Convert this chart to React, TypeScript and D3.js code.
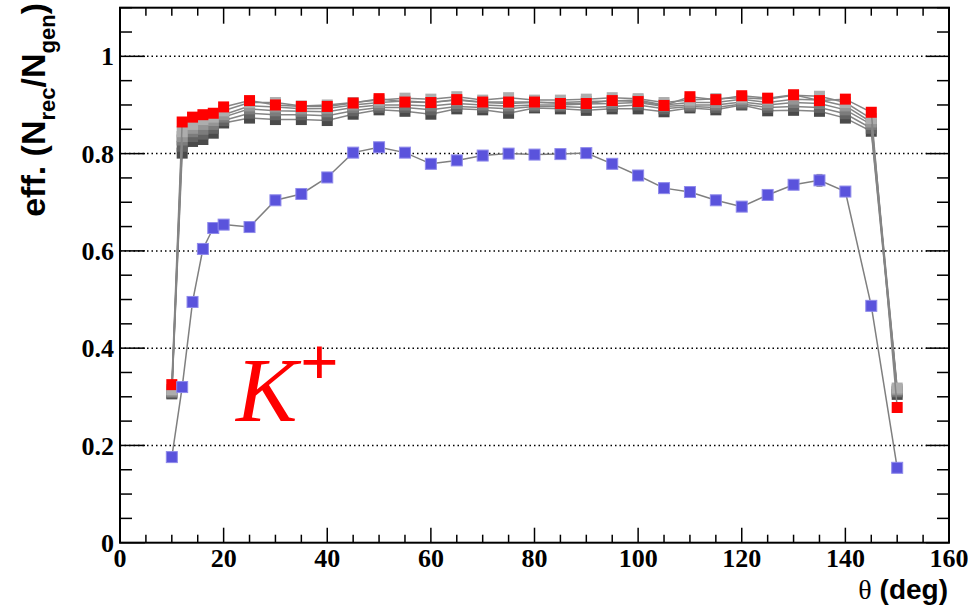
import React from "react";
import * as d3 from "d3";

const thetas = [10, 12, 14, 16, 18, 20, 25, 30, 35, 40, 45, 50, 55, 60, 65, 70, 75, 80, 85, 90, 95, 100, 105, 110, 115, 120, 125, 130, 135, 140, 145, 150];

const blueEff = [0.176, 0.320, 0.495, 0.604, 0.647, 0.654, 0.649, 0.704, 0.717, 0.751, 0.802, 0.813, 0.802, 0.779, 0.786, 0.796, 0.800, 0.798, 0.799, 0.801, 0.779, 0.755, 0.729, 0.721, 0.704, 0.691, 0.715, 0.736, 0.745, 0.722, 0.487, 0.154];
const blueErr = [0.004, 0.004, 0.004, 0.004, 0.004, 0.004, 0.004, 0.004, 0.004, 0.004, 0.004, 0.004, 0.004, 0.004, 0.004, 0.004, 0.004, 0.004, 0.004, 0.004, 0.004, 0.004, 0.004, 0.004, 0.004, 0.004, 0.004, 0.004, 0.012, 0.004, 0.004, 0.004];

const redEff = [0.325, 0.865, 0.875, 0.880, 0.883, 0.896, 0.909, 0.900, 0.897, 0.897, 0.904, 0.913, 0.906, 0.905, 0.911, 0.906, 0.906, 0.906, 0.903, 0.903, 0.909, 0.907, 0.899, 0.917, 0.911, 0.919, 0.914, 0.921, 0.909, 0.912, 0.885, 0.278];

const gray1Eff = [0.315, 0.845, 0.860, 0.870, 0.875, 0.888, 0.905, 0.905, 0.898, 0.900, 0.905, 0.910, 0.914, 0.912, 0.917, 0.910, 0.915, 0.910, 0.910, 0.912, 0.915, 0.913, 0.905, 0.910, 0.913, 0.915, 0.912, 0.920, 0.918, 0.905, 0.872, 0.318];
const gray2Eff = [0.312, 0.835, 0.852, 0.860, 0.868, 0.880, 0.898, 0.896, 0.892, 0.893, 0.900, 0.905, 0.908, 0.905, 0.910, 0.905, 0.903, 0.905, 0.905, 0.907, 0.908, 0.910, 0.900, 0.905, 0.905, 0.912, 0.905, 0.912, 0.910, 0.898, 0.865, 0.315];
const gray3Eff = [0.310, 0.828, 0.845, 0.850, 0.860, 0.875, 0.892, 0.888, 0.887, 0.886, 0.895, 0.900, 0.900, 0.898, 0.903, 0.900, 0.898, 0.900, 0.900, 0.902, 0.903, 0.905, 0.897, 0.900, 0.900, 0.906, 0.900, 0.905, 0.903, 0.890, 0.860, 0.312];
const gray4Eff = [0.308, 0.815, 0.835, 0.840, 0.852, 0.868, 0.883, 0.880, 0.880, 0.878, 0.888, 0.895, 0.895, 0.890, 0.897, 0.895, 0.892, 0.897, 0.897, 0.895, 0.897, 0.900, 0.892, 0.897, 0.895, 0.902, 0.895, 0.897, 0.895, 0.882, 0.852, 0.310];
const gray5Eff = [0.306, 0.801, 0.825, 0.829, 0.842, 0.863, 0.873, 0.870, 0.870, 0.868, 0.881, 0.890, 0.887, 0.881, 0.892, 0.890, 0.883, 0.894, 0.892, 0.889, 0.892, 0.892, 0.886, 0.894, 0.890, 0.900, 0.888, 0.889, 0.887, 0.873, 0.846, 0.305];

const xTickLabels = [0, 20, 40, 60, 80, 100, 120, 140, 160];
const yTickLabels = [0, 0.2, 0.4, 0.6, 0.8, 1];

const W = 968;
const H = 612;
const L = 120, R = 949, T = 7.7, B = 542.7;

export default function App() {
  const x = d3.scaleLinear().domain([0, 160]).range([L, R]);
  const y = d3.scaleLinear().domain([0, 1.1]).range([B, T]);

  const line = d3.line<[number, number]>().x((d) => x(d[0])).y((d) => y(d[1]));

  const series = [
    { vals: gray5Eff, fill: "#4a4a4a" },
    { vals: gray4Eff, fill: "#636363" },
    { vals: gray3Eff, fill: "#7c7c7c" },
    { vals: gray2Eff, fill: "#959595" },
    { vals: gray1Eff, fill: "#adadad" },
    { vals: redEff, fill: "#ff0000" },
  ];

  const ms = 11;

  const xMinor = d3.range(0, 161, 5);
  const yMinor = d3.range(0, 1.1001, 0.05);
  const fmtY = (v: number) => (v === 0 ? "0" : v === 1 ? "1" : d3.format(".1f")(v));

  return (
    <svg width={W} height={H} style={{ position: "absolute", left: 0, top: 0, background: "#fff" }}>
      <rect x={0} y={0} width={W} height={H} fill="#fff" />
      {/* grid */}
      {[0.2, 0.4, 0.6, 0.8, 1.0].map((v) => (
        <line key={"g" + v} x1={L} x2={R} y1={y(v)} y2={y(v)} stroke="#000" strokeWidth={1.5} strokeDasharray="1.5,3" />
      ))}
      {/* ticks */}
      {xMinor.map((v) => {
        const major = v % 20 === 0;
        return (
          <g key={"xt" + v}>
            <line x1={x(v)} x2={x(v)} y1={B} y2={B - (major ? 15 : 8)} stroke="#000" strokeWidth={1.5} />
            <line x1={x(v)} x2={x(v)} y1={T} y2={T + (major ? 16 : 8)} stroke="#000" strokeWidth={1.5} />
          </g>
        );
      })}
      {yMinor.map((v, i) => {
        const major = i % 4 === 0;
        return (
          <g key={"yt" + i}>
            <line x1={L} x2={L + (major ? 25 : 12)} y1={y(v)} y2={y(v)} stroke="#000" strokeWidth={1.5} />
            <line x1={R} x2={R - (major ? 23 : 12)} y1={y(v)} y2={y(v)} stroke="#000" strokeWidth={1.5} />
          </g>
        );
      })}
      {/* frame */}
      <rect x={L} y={T} width={R - L} height={B - T} fill="none" stroke="#000" strokeWidth={2} />
      {/* tick labels */}
      {xTickLabels.map((v) => (
        <text key={"xl" + v} x={x(v)} y={567} textAnchor="middle" fontFamily="'Liberation Serif', serif" fontWeight="bold" fontSize={26}>
          {v}
        </text>
      ))}
      {yTickLabels.map((v) => (
        <text key={"yl" + v} x={114} y={y(v)} dy="0.35em" textAnchor="end" fontFamily="'Liberation Serif', serif" fontWeight="bold" fontSize={26}>
          {fmtY(v)}
        </text>
      ))}
      {/* axis titles */}
      <text x={948} y={599} textAnchor="end" fontSize={28}>
        <tspan fontFamily="'Liberation Serif', serif">θ</tspan>
        <tspan fontFamily="'Liberation Sans', Arial, sans-serif" fontWeight="bold"> (deg)</tspan>
      </text>
      <text transform="translate(45,3) rotate(-90)" textAnchor="end" fontFamily="'Liberation Sans', Arial, sans-serif" fontWeight="bold" fontSize={34}>
        <tspan>eff. (N</tspan>
        <tspan fontSize={22} dy={10}>rec</tspan>
        <tspan dy={-10}>/N</tspan>
        <tspan fontSize={22} dy={10}>gen</tspan>
        <tspan dy={-10}>)</tspan>
      </text>
      {/* gray + red series */}
      {series.map((s, si) => {
        const pts: [number, number][] = thetas.map((t, i) => [t, s.vals[i]]);
        return (
          <g key={"s" + si}>
            <path d={line(pts) || ""} fill="none" stroke="#858585" strokeWidth={1.5} />
            {pts.map((p, i) => (
              <rect key={i} x={x(p[0]) - ms / 2} y={y(p[1]) - ms / 2} width={ms} height={ms} fill={s.fill} />
            ))}
          </g>
        );
      })}
      {/* blue series */}
      <g>
        <path d={line(thetas.map((t, i) => [t, blueEff[i]] as [number, number])) || ""} fill="none" stroke="#7f7f7f" strokeWidth={1.5} />
        {thetas.map((t, i) => (
          <g key={"be" + i}>
            <line x1={x(t)} x2={x(t)} y1={y(blueEff[i] - blueErr[i])} y2={y(blueEff[i] + blueErr[i])} stroke="#7f7f7f" strokeWidth={1.2} />
            <line x1={x(t) - 3} x2={x(t) + 3} y1={y(blueEff[i] - blueErr[i])} y2={y(blueEff[i] - blueErr[i])} stroke="#7f7f7f" strokeWidth={1.2} />
            <line x1={x(t) - 3} x2={x(t) + 3} y1={y(blueEff[i] + blueErr[i])} y2={y(blueEff[i] + blueErr[i])} stroke="#7f7f7f" strokeWidth={1.2} />
          </g>
        ))}
        {thetas.map((t, i) => (
          <rect key={"b" + i} x={x(t) - ms / 2} y={y(blueEff[i]) - ms / 2} width={ms} height={ms} fill="#5a53dc" stroke="#8f8aeb" strokeWidth={1} />
        ))}
      </g>
      {/* K+ label */}
      <text x={236} y={421} fill="#ff0000" fontFamily="'Liberation Serif', serif" fontStyle="italic" fontSize={92}>
        K
      </text>
      <text x={300} y={385} fill="#ff0000" fontFamily="'Liberation Serif', serif" fontWeight="bold" fontSize={68}>
        +
      </text>
    </svg>
  );
}
